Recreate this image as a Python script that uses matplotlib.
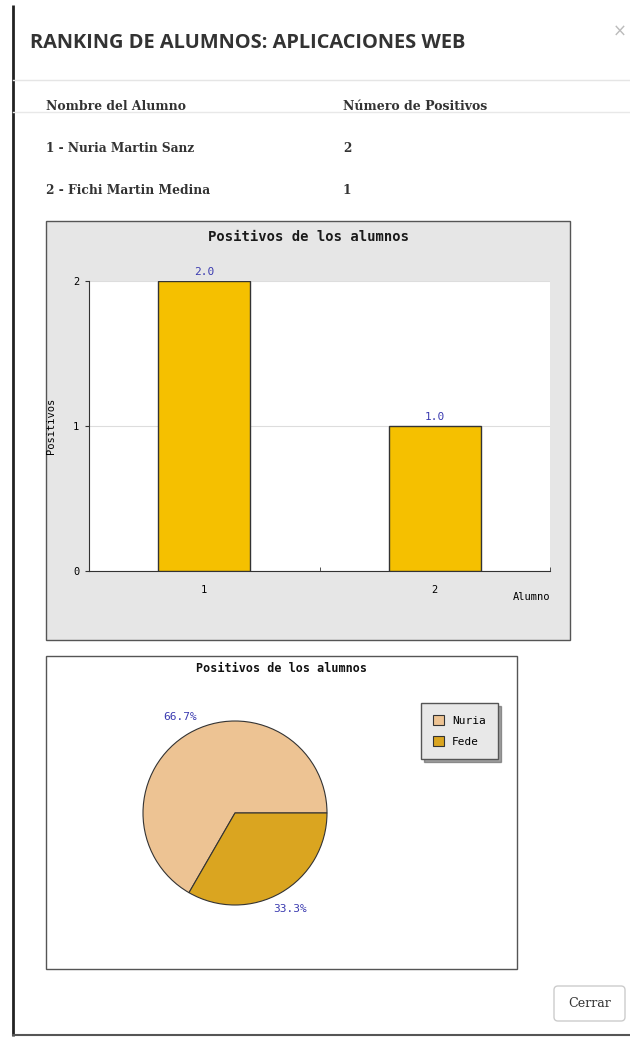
import matplotlib
matplotlib.use("Agg")
import matplotlib.pyplot as plt
from matplotlib.patches import Rectangle, FancyBboxPatch

W, H = 630, 1038

titulo_modal = "RANKING DE ALUMNOS: APLICACIONES WEB"
cabeceras = ["Nombre del Alumno", "Número de Positivos"]
nombres = ["Nuria Martin Sanz", "Fichi Martin Medina"]
alumnos = ["1", "2"]
positivos = [2, 1]
titulo_grafico = "Positivos de los alumnos"
etiquetas_pie = ["Nuria", "Fede"]
y_ticks = [0, 1, 2]
boton = "Cerrar"

MONO = "DejaVu Sans Mono"
BLUE = "#3b3bb0"

fig = plt.figure(figsize=(W / 100, H / 100), dpi=100)
fig.patch.set_facecolor("white")
bg = fig.add_axes([0, 0, 1, 1])
bg.set_xlim(0, W)
bg.set_ylim(H, 0)
bg.axis("off")
renderer = fig.canvas.get_renderer()


def px(x0, y0, x1, y1):
    return [x0 / W, 1 - y1 / H, (x1 - x0) / W, (y1 - y0) / H]


def fit(x, y, s, width, size, **kw):
    t = bg.text(x, y, s, fontsize=size, **kw)
    w = t.get_window_extent(renderer).width
    t.set_fontsize(size * width / w)
    return t


# modal frame
bg.plot([13, 13], [5, 1036], color="#222222", lw=2, solid_capstyle="butt")
bg.plot([13, 630], [1035, 1035], color="#555555", lw=1.5)
bg.plot([13, 630], [80, 80], color="#e5e5e5", lw=1)
bg.plot([13, 630], [112, 112], color="#e8e8e8", lw=1)

fit(30, 43, titulo_modal, 435, 13, fontweight="bold", family="Open Sans",
    color="#333333", va="center")
bg.text(620, 32, "×", fontsize=12, color="#bbbbbb", ha="center", va="center")

# table
tkw = dict(fontweight="bold", family="DejaVu Serif", color="#333333", va="center")
fit(46, 106, cabeceras[0], 139, 9, **tkw)
fit(343, 106, cabeceras[1], 144, 9, **tkw)
row_y = [149, 190]
for i, (a, n, p) in enumerate(zip(alumnos, nombres, positivos)):
    t = fit(46, row_y[i], f"{a} - {n}", [148, 164][i], 9, **tkw)
    bg.text(343, row_y[i], str(p), fontsize=t.get_fontsize(), **tkw)

# ---------------- bar chart ----------------
bg.add_patch(Rectangle((46, 221), 524, 419, facecolor="#e6e6e6",
                       edgecolor="#555555", lw=1))
bg.text(308, 237, titulo_grafico, family=MONO, fontweight="bold", fontsize=10,
        ha="center", va="center", color="#1a1a1a")
ax1 = fig.add_axes(px(89, 281, 550, 571))
ax1.set_facecolor("white")
xpos = list(range(1, len(alumnos) + 1))
bars = ax1.bar(xpos, positivos, width=0.4, color="#f5c000",
               edgecolor="#333333", lw=1, zorder=3)
ax1.bar_label(bars, labels=[f"{v:.1f}" for v in positivos], padding=3,
              color=BLUE, family=MONO, fontsize=8)
ax1.set_xlim(0.5, len(alumnos) + 0.5)
ax1.set_ylim(0, max(positivos))
ax1.set_xticks(xpos)
ax1.set_xticklabels(alumnos, family=MONO, fontsize=7.5)
ax1.set_xticks([1.5, 2.5], minor=True)
ax1.tick_params(axis="x", which="major", length=0, pad=10)
ax1.tick_params(axis="x", which="minor", direction="in", length=3, color="#333333")
ax1.set_yticks(y_ticks)
ax1.set_yticklabels([str(v) for v in y_ticks], family=MONO, fontsize=7.5)
ax1.tick_params(axis="y", length=3, pad=4, color="#333333")
ax1.grid(axis="y", color="#dddddd", lw=0.8)
ax1.set_axisbelow(True)
for s in ["top", "right"]:
    ax1.spines[s].set_visible(False)
for s in ["left", "bottom"]:
    ax1.spines[s].set_color("#333333")
ax1.set_ylabel("Positivos", family=MONO, fontsize=7.5)
ax1.yaxis.set_label_coords((56 - 89) / 461, 0.5)
ax1.set_xlabel("Alumno", family=MONO, fontsize=7.5, loc="right")
ax1.xaxis.set_label_coords(1.0, -(592 - 571) / 290)

# ---------------- pie chart ----------------
bg.add_patch(Rectangle((46, 656), 471, 313, facecolor="white",
                       edgecolor="#555555", lw=1))
bg.text(282, 669, titulo_grafico, family=MONO, fontweight="bold", fontsize=8.5,
        ha="center", va="center", color="#111111")
lim = 1.03
r = 92
cx, cy = 235, 813
ax2 = fig.add_axes(px(cx - r * lim, cy - r * lim, cx + r * lim, cy + r * lim))
wedges, texts, autotexts = ax2.pie(
    positivos, colors=["#edc393", "#daa520"], startangle=0, counterclock=True,
    wedgeprops=dict(edgecolor="#333333", linewidth=0.8),
    autopct="%.1f%%", pctdistance=1.2,
    textprops=dict(color=BLUE, family=MONO, fontsize=8))
ax2.set_xlim(-lim, lim)
ax2.set_ylim(-lim, lim)

fig.legend(wedges, etiquetas_pie, loc="upper left",
           bbox_to_anchor=(421 / W, 1 - 703 / H), bbox_transform=fig.transFigure,
           borderaxespad=0, frameon=True, fancybox=False, shadow=True,
           facecolor="#e8e8e8", edgecolor="#555555", framealpha=1,
           prop=dict(family=MONO, size=8), handlelength=1.0, handleheight=1.0,
           borderpad=1.1, labelspacing=0.9, handletextpad=0.7)

# button
bg.add_patch(FancyBboxPatch((554, 986), 71, 35,
                            boxstyle="round,pad=0,rounding_size=4",
                            facecolor="white", edgecolor="#cccccc", lw=1))
fit(589.5, 1003.5, boton, 43, 9, family="DejaVu Serif", color="#333333",
    ha="center", va="center")

fig.savefig("out.png", dpi=100)
